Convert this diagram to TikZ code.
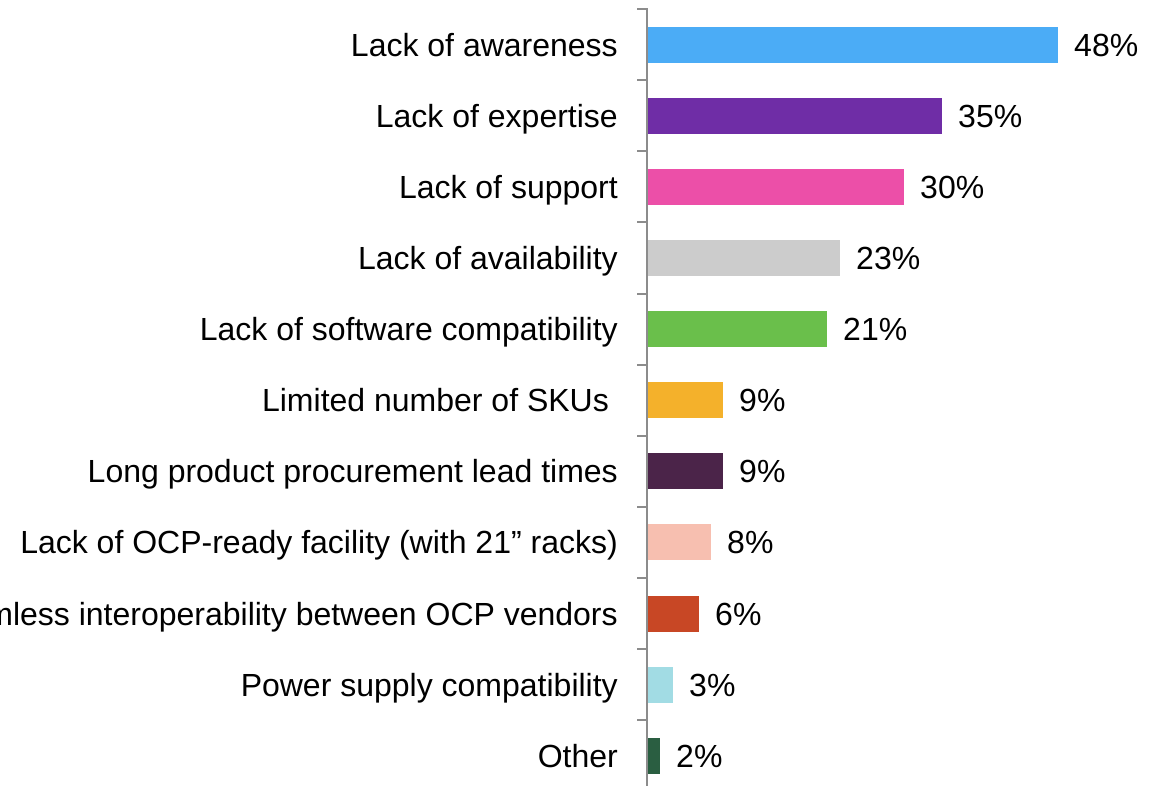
\documentclass[tikz,border=0pt]{standalone}
\usepackage{fontspec}
\setmainfont{Liberation Sans}
\usepackage{xcolor}

\definecolor{awareC}{HTML}{4BACF6}
\definecolor{expertC}{HTML}{6F2DA6}
\definecolor{supportC}{HTML}{EC4FA8}
\definecolor{availC}{HTML}{CCCCCC}
\definecolor{softC}{HTML}{6ABF4B}
\definecolor{skuC}{HTML}{F4B12B}
\definecolor{leadC}{HTML}{4B2449}
\definecolor{rackC}{HTML}{F7BFB0}
\definecolor{vendC}{HTML}{C84725}
\definecolor{powerC}{HTML}{A2DCE4}
\definecolor{otherC}{HTML}{2A5E41}
\definecolor{axisC}{HTML}{8C8C8C}

\begin{document}
\begin{tikzpicture}[x=1pt, y=-1pt,
  bar/.style={anchor=west, minimum height=36pt, inner sep=0pt, outer sep=0pt},
  val/.style={anchor=base west, inner sep=0pt, font=\fontsize{32}{38}\selectfont},
  cat/.style={anchor=base east, inner sep=0pt, font=\fontsize{32}{38}\selectfont}]
\useasboundingbox (0,0) rectangle (1164,786);

% bars
\node[bar, fill=awareC, minimum width=410pt] (b1) at (648,44.7) {};
\node[bar, fill=expertC, minimum width=294pt] (b2) at (648,115.8) {};
\node[bar, fill=supportC, minimum width=256pt] (b3) at (648,186.9) {};
\node[bar, fill=availC, minimum width=192pt] (b4) at (648,258.0) {};
\node[bar, fill=softC, minimum width=179pt] (b5) at (648,329.1) {};
\node[bar, fill=skuC, minimum width=75pt] (b6) at (648,400.2) {};
\node[bar, fill=leadC, minimum width=75pt] (b7) at (648,471.3) {};
\node[bar, fill=rackC, minimum width=63pt] (b8) at (648,542.4) {};
\node[bar, fill=vendC, minimum width=51pt] (b9) at (648,613.5) {};
\node[bar, fill=powerC, minimum width=25pt] (b10) at (648,684.6) {};
\node[bar, fill=otherC, minimum width=12pt] (b11) at (648,755.7) {};

% values
\node[val] (v1) at ([xshift=16pt, yshift=-11.5pt]b1.east) {48\%};
\node[val] (v2) at ([xshift=16pt, yshift=-11.5pt]b2.east) {35\%};
\node[val] (v3) at ([xshift=16pt, yshift=-11.5pt]b3.east) {30\%};
\node[val] (v4) at ([xshift=16pt, yshift=-11.5pt]b4.east) {23\%};
\node[val] (v5) at ([xshift=16pt, yshift=-11.5pt]b5.east) {21\%};
\node[val] (v6) at ([xshift=16pt, yshift=-11.5pt]b6.east) {9\%};
\node[val] (v7) at ([xshift=16pt, yshift=-11.5pt]b7.east) {9\%};
\node[val] (v8) at ([xshift=16pt, yshift=-11.5pt]b8.east) {8\%};
\node[val] (v9) at ([xshift=16pt, yshift=-11.5pt]b9.east) {6\%};
\node[val] (v10) at ([xshift=16pt, yshift=-11.5pt]b10.east) {3\%};
\node[val] (v11) at ([xshift=16pt, yshift=-11.5pt]b11.east) {2\%};

% categories
\node[cat] (l1) at ([xshift=-30pt, yshift=-11.5pt]b1.west) {Lack of awareness};
\node[cat] (l2) at ([xshift=-30pt, yshift=-11.5pt]b2.west) {Lack of expertise};
\node[cat] (l3) at ([xshift=-30pt, yshift=-11.5pt]b3.west) {Lack of support};
\node[cat] (l4) at ([xshift=-30pt, yshift=-11.5pt]b4.west) {Lack of availability};
\node[cat] (l5) at ([xshift=-30pt, yshift=-11.5pt]b5.west) {Lack of software compatibility};
\node[cat] (l6) at ([xshift=-30pt, yshift=-11.5pt]b6.west) {Limited number of SKUs\ \null};
\node[cat] (l7) at ([xshift=-30pt, yshift=-11.5pt]b7.west) {Long product procurement lead times};
\node[cat] (l8) at ([xshift=-30pt, yshift=-11.5pt]b8.west) {Lack of OCP-ready facility (with 21” racks)};
\node[cat] (l9) at ([xshift=-30pt, yshift=-11.5pt]b9.west) {Lack of seamless interoperability between OCP vendors};
\node[cat] (l10) at ([xshift=-30pt, yshift=-11.5pt]b10.west) {Power supply compatibility};
\node[cat] (l11) at ([xshift=-30pt, yshift=-11.5pt]b11.west) {Other};

% axis
\draw[axisC, line width=2pt] (647,8.2) -- (647,786);
\draw[axisC, line width=2pt] (637,9.2) -- (647,9.2) (637,80.3) -- (647,80.3)
  (637,151.4) -- (647,151.4) (637,222.5) -- (647,222.5) (637,293.6) -- (647,293.6)
  (637,364.7) -- (647,364.7) (637,435.8) -- (647,435.8) (637,506.9) -- (647,506.9)
  (637,578.0) -- (647,578.0) (637,649.1) -- (647,649.1) (637,720.2) -- (647,720.2);
\end{tikzpicture}
\end{document}
